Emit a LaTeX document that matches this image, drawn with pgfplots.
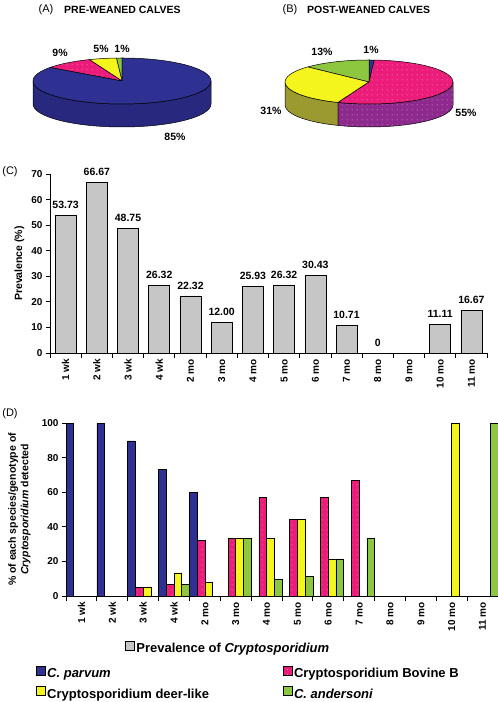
\documentclass[border=0pt]{standalone}
\usepackage{fontspec}
\setmainfont{Liberation Sans}
\usepackage{pgfplots}
\usepackage{pgfplotstable}
\pgfplotsset{compat=1.18}
\usetikzlibrary{patterns}

\pgfdeclarepatternformonly{sparsedots}{\pgfpointorigin}{\pgfpoint{5pt}{5pt}}{\pgfpoint{5pt}{5pt}}{\pgfpathcircle{\pgfpoint{2.5pt}{2.5pt}}{0.45pt}\pgfusepath{fill}}

\definecolor{cpar}{HTML}{2E3192}
\definecolor{cparside}{HTML}{28297E}
\definecolor{bovb}{HTML}{EC1C7A}
\definecolor{bovbside}{HTML}{8E2A8E}
\definecolor{deer}{HTML}{F5F51E}
\definecolor{deerside}{HTML}{9A9A30}
\definecolor{cand}{HTML}{8DC63F}
\definecolor{prevgray}{HTML}{C6C6C6}

% pie data (%)
\def\Apar{85}\def\Abov{9}\def\Adeer{5}\def\Aand{1}
\def\Bpar{1}\def\Bbov{55}\def\Bdeer{31}\def\Band{13}
\pgfmathsetmacro{\Aa}{90+3.6*\Aand}
\pgfmathsetmacro{\Ab}{\Aa+3.6*\Adeer}
\pgfmathsetmacro{\Ac}{\Ab+3.6*\Abov}
\pgfmathsetmacro{\Ad}{\Ac+3.6*\Apar}
\pgfmathsetmacro{\Bz}{90-3.6*\Bpar}
\pgfmathsetmacro{\Ba}{90+3.6*\Band}
\pgfmathsetmacro{\Bb}{\Ba+3.6*\Bdeer}
\pgfmathsetmacro{\Bc}{\Bb+3.6*\Bbov}

\pgfplotstableread{
x y lab
0 53.73 53.73
1 66.67 66.67
2 48.75 48.75
3 26.32 26.32
4 22.32 22.32
5 12.00 12.00
6 25.93 25.93
7 26.32 26.32
8 30.43 30.43
9 10.71 10.71
10 0 0
12 11.11 11.11
13 16.67 16.67
}\prevtable

\tikzset{dotted pink/.style={postaction={pattern=sparsedots, pattern color=white}}}

\newcommand{\pietop}[8]{%
 \filldraw[fill=#7, draw=black, line width=0.5pt, line join=round, #8] (axis cs:#1,#2) -- ++(#5:#3pt and #4pt) arc[start angle=#5, end angle=#6, x radius=#3pt, y radius=#4pt] -- cycle;}
\newcommand{\pieside}[9]{%
 \filldraw[fill=#8, draw=black, line width=0.5pt, line join=round, #9] (axis cs:#1,#2) ++(#6:#3pt and #4pt) arc[start angle=#6, end angle=#7, x radius=#3pt, y radius=#4pt] -- ++(0pt,-#5pt) arc[start angle=#7, end angle=#6, x radius=#3pt, y radius=#4pt] -- cycle;}

\pgfplotsset{
 sq legend/.style={legend image code/.code={\draw[##1,draw=black,line width=0.5pt] (0pt,-1pt) rectangle (8.5pt,7.5pt);}},
 panel/.style={
  scale only axis, anchor=south west, clip=false,
  xmin=-0.5, xmax=13.5, ymin=0,
  axis x line*=bottom, axis y line*=left,
  axis line style={-, line width=0.8pt},
  tick align=outside, tick style={black, line width=0.8pt},
  major tick length=4pt, minor tick length=5pt,
  xtick={0,...,13},
  xticklabels={1 wk,2 wk,3 wk,4 wk,2 mo,3 mo,4 mo,5 mo,6 mo,7 mo,8 mo,9 mo,10 mo,11 mo},
  minor xtick={-0.5,0.5,...,13.5},
  major x tick style={draw=none},
  xticklabel style={rotate=90, anchor=east, font=\bfseries\fontsize{10}{12}\selectfont, inner sep=2pt},
  yticklabel style={font=\bfseries\fontsize{10}{12}\selectfont},
  /pgf/number format/assume math mode=true,
  legend cell align=left,
 },
}

\begin{document}
\begin{tikzpicture}
% ---------- pies ----------
\begin{axis}[at={(0pt,0pt)}, anchor=south west, scale only axis, width=498pt, height=702pt,
  xmin=0, xmax=498, ymin=0, ymax=702, hide axis, clip=false]
 % A
 \pieside{122}{621}{89}{23}{23}{180}{360}{cparside}{}
 \pietop{122}{621}{89}{23}{90}{\Aa}{cand}{}
 \pietop{122}{621}{89}{23}{\Aa}{\Ab}{deer}{}
 \pietop{122}{621}{89}{23}{\Ab}{\Ac}{bovb}{dotted pink}
 \pietop{122}{621}{89}{23}{\Ac}{\Ad}{cpar}{}
 % B
 \pieside{369}{620}{84}{22}{23}{180}{\Bb}{deerside}{}
 \pieside{369}{620}{84}{22}{23}{\Bb}{360}{bovbside}{dotted pink}
 \pietop{369}{620}{84}{22}{\Bz}{90}{cpar}{}
 \pietop{369}{620}{84}{22}{90}{\Ba}{cand}{}
 \pietop{369}{620}{84}{22}{\Ba}{\Bb}{deer}{}
 \pietop{369}{620}{84}{22}{\Bb}{\Bc}{bovb}{dotted pink}
 \begin{scope}[every node/.style={font=\bfseries\fontsize{10.5}{12}\selectfont, inner sep=0pt}]
 \node at (axis cs:60,649) {\Abov\%};
 \node at (axis cs:101,653) {\Adeer\%};
 \node at (axis cs:122,653) {\Aand\%};
 \node at (axis cs:175,565) {\Apar\%};
 \node at (axis cs:322,650) {\Band\%};
 \node at (axis cs:371,652) {\Bpar\%};
 \node at (axis cs:271,591) {\Bdeer\%};
 \node at (axis cs:466,589) {\Bbov\%};
 \end{scope}
 \node[anchor=center, font=\fontsize{11}{13}\selectfont, inner sep=0pt] at (axis cs:46,692) {(A)};
 \node[anchor=west, font=\bfseries\fontsize{10.5}{12}\selectfont, inner sep=0pt] at (axis cs:64,692) {PRE-WEANED CALVES};
 \node[anchor=center, font=\fontsize{11}{13}\selectfont, inner sep=0pt] at (axis cs:290,692) {(B)};
 \node[anchor=west, font=\bfseries\fontsize{10.5}{12}\selectfont, inner sep=0pt] at (axis cs:307,692) {POST-WEANED CALVES};
 \node[font=\fontsize{11}{13}\selectfont, inner sep=0pt] at (axis cs:10,530) {(C)};
 \node[font=\fontsize{11}{13}\selectfont, inner sep=0pt] at (axis cs:10,288) {(D)};
\end{axis}

% ---------- panel C ----------
\begin{axis}[panel, at={(50pt,349pt)}, width=437pt, height=179pt, ymax=70,
  ytick={0,10,...,70},
  ylabel={Prevalence (\%)},
  ylabel style={font=\bfseries\fontsize{10.5}{12}\selectfont, at={(axis description cs:-0.07,0.5)}, anchor=center},
  ybar, bar width=21pt,
  nodes near coords, point meta=explicit symbolic,
  nodes near coords style={font=\bfseries\fontsize{10.5}{12}\selectfont, anchor=south, yshift=3pt},
  legend style={draw=none, fill=none, inner sep=0pt, at={(axis description cs:0.172,-1.653)}, anchor=west,
    font=\bfseries\fontsize{13}{15}\selectfont},
 ]
 \addplot[fill=prevgray, draw=black, line width=0.6pt, sq legend] table[x=x, y=y, meta=lab] {\prevtable};
 \addlegendentry{Prevalence of \textit{Cryptosporidium}}
\end{axis}

% ---------- panel D ----------
\begin{axis}[panel, at={(66pt,106pt)}, width=432pt, height=173pt, ymax=100,
  ytick={0,20,...,100},
  ylabel={\% of each species/genotype of\\\textit{Cryptosporidium} detected},
  ylabel style={align=center, font=\bfseries\fontsize{10.5}{12.5}\selectfont, at={(axis description cs:-0.108,0.5)}, anchor=center},
  ybar=0pt, bar width=7.71pt,
  legend columns=2,
  legend style={draw=none, fill=none, inner sep=0pt, at={(axis description cs:-0.0694,-0.404)}, anchor=north west,
    font=\bfseries\fontsize{13}{15}\selectfont, row sep=5pt,
    /tikz/every even column/.append style={column sep=72pt}},
 ]
 \addplot[fill=cpar, draw=black, line width=0.6pt, sq legend] coordinates {(0,100) (1,100) (2,89.7) (3,73.3) (4,60)};
 \addlegendentry{\textit{C. parvum}}
 \addplot[fill=bovb, draw=black, line width=0.6pt, sq legend, postaction={pattern=sparsedots, pattern color=white}] coordinates {(2,5.1) (3,6.7) (4,32) (5,33.3) (6,57.1) (7,44.4) (8,57.1) (9,66.7)};
 \addlegendentry{Cryptosporidium Bovine B}
 \addplot[fill=deer, draw=black, line width=0.6pt, sq legend] coordinates {(2,5.1) (3,13.3) (4,8) (5,33.3) (6,33.3) (7,44.4) (8,21.4) (12,100)};
 \addlegendentry{Cryptosporidium deer-like}
 \addplot[fill=cand, draw=black, line width=0.6pt, sq legend] coordinates {(3,6.7) (5,33.3) (6,9.5) (7,11.1) (8,21.4) (9,33.3) (13,100)};
 \addlegendentry{\textit{C. andersoni}}
\end{axis}
\pgfresetboundingbox
\path[use as bounding box] (0pt,0pt) rectangle (498pt,702pt);
\end{tikzpicture}
\end{document}
